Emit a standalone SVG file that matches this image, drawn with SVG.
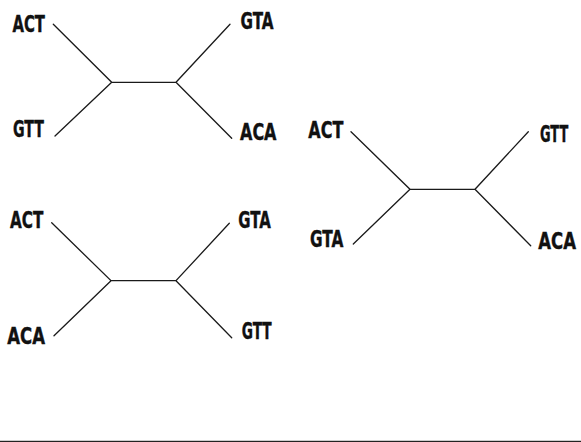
<svg xmlns="http://www.w3.org/2000/svg" width="581" height="442" viewBox="0 0 581 442">
  <style>
    .lbl { font-family: "DejaVu Sans Condensed", "DejaVu Sans", sans-serif; font-weight: bold; font-size: 23px; fill: #111; stroke: #111; stroke-width: 0.4; }
    .edge { stroke: #1a1a1a; stroke-width: 1.3; fill: none; stroke-linecap: round; }
  </style>
  <rect x="0" y="0" width="581" height="442" fill="#ffffff"/>

  <!-- Tree 1: ((ACT,GTT),(GTA,ACA)) -->
  <g id="tree1">
    <g id="t1-ACT"><text class="lbl" x="12.5" y="32" textLength="32.5" lengthAdjust="spacingAndGlyphs">ACT</text></g>
    <g id="t1-GTT"><text class="lbl" x="13" y="137" textLength="31" lengthAdjust="spacingAndGlyphs">GTT</text></g>
    <g id="t1-GTA"><text class="lbl" x="240.5" y="29" textLength="33" lengthAdjust="spacingAndGlyphs">GTA</text></g>
    <g id="t1-ACA"><text class="lbl" x="240" y="139.5" textLength="36.5" lengthAdjust="spacingAndGlyphs">ACA</text></g>
    <g id="t1-edges">
      <path class="edge" d="M53.3 24.3 L111.7 82.3 L176 82.3 L230 24.3 M111.7 82.3 L55 136 M176 82.3 L231.7 138.3"/>
    </g>
  </g>

  <!-- Tree 2: ((ACT,GTA),(GTT,ACA)) -->
  <g id="tree2">
    <g id="t2-ACT"><text class="lbl" x="308.3" y="137.5" textLength="35" lengthAdjust="spacingAndGlyphs">ACT</text></g>
    <g id="t2-GTA"><text class="lbl" x="310" y="247" textLength="33.3" lengthAdjust="spacingAndGlyphs">GTA</text></g>
    <g id="t2-GTT"><text class="lbl" x="540" y="142" textLength="28.3" lengthAdjust="spacingAndGlyphs">GTT</text></g>
    <g id="t2-ACA"><text class="lbl" x="538.3" y="248.5" textLength="37.7" lengthAdjust="spacingAndGlyphs">ACA</text></g>
    <g id="t2-edges">
      <path class="edge" d="M351 131.7 L410 189.3 L475 189.3 L528.3 131.7 M410 189.3 L353.3 244 M475 189.3 L530.7 245.7"/>
    </g>
  </g>

  <!-- Tree 3: ((ACT,ACA),(GTA,GTT)) -->
  <g id="tree3">
    <g id="t3-ACT"><text class="lbl" x="10" y="227.5" textLength="33.3" lengthAdjust="spacingAndGlyphs">ACT</text></g>
    <g id="t3-ACA"><text class="lbl" x="7.3" y="343.5" textLength="37.7" lengthAdjust="spacingAndGlyphs">ACA</text></g>
    <g id="t3-GTA"><text class="lbl" x="238.3" y="228" textLength="32.4" lengthAdjust="spacingAndGlyphs">GTA</text></g>
    <g id="t3-GTT"><text class="lbl" x="241.7" y="338.5" textLength="30" lengthAdjust="spacingAndGlyphs">GTT</text></g>
    <g id="t3-edges">
      <path class="edge" d="M51.7 222.7 L111 280.7 L176 280.7 L229.3 223.3 M111 280.7 L54 335.7 M176 280.7 L231.7 337.7"/>
    </g>
  </g>

  <!-- bottom rule -->
  <rect x="0" y="440" width="581" height="1" fill="#cccccc"/>
  <rect x="0" y="441" width="581" height="1" fill="#222222"/>
</svg>
